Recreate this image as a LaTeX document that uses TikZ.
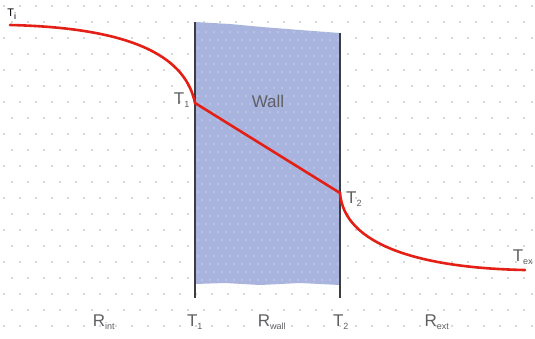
\documentclass[tikz,border=0pt]{standalone}
\usepackage{fontspec}
\setmainfont{Liberation Sans}
\usepackage{tikz}
\usetikzlibrary{positioning}

\definecolor{wallblue}{RGB}{168,180,222}
\definecolor{wallline}{RGB}{60,60,65}
\definecolor{tempred}{RGB}{228,32,22}
\definecolor{labelgray}{RGB}{95,95,100}
\newcommand{\lab}[2]{#1\textsubscript{\fontsize{9}{10}\selectfont #2}}

\begin{document}
\begin{tikzpicture}[x=1pt,y=-1pt,
    font=\fontsize{17}{20}\selectfont\color{labelgray},
    wallside/.style={draw=wallline, line width=2.8pt},
    profile/.style={draw=tempred, line width=2.6pt, line cap=round},
    lbl/.style={inner sep=1pt}]
  \useasboundingbox (0,0) rectangle (535,338);
  \fill[white] (0,0) rectangle (535,338);
  % dotted paper
  \foreach \j in {0,...,21} {
    \foreach \i in {0,...,34} {
      \fill[gray!60] ({8*mod(\j,2)+16*\i+4},{16*\j+6}) circle (0.9pt);
    }
  }
  % the wall
  \fill[wallblue] (195,22) -- (230,24) -- (262,27) -- (300,30) -- (340,33)
    -- (340,285) -- (300,283) -- (260,285) -- (225,283) -- (195,284) -- cycle;
  \foreach \i in {0,...,17} {
    \foreach \j in {0,...,32} {
      \fill[white!70!wallblue] ({198+8*\i+4*mod(\j,2)},{32+8*\j}) circle (0.6pt);
    }
  }
  \coordinate (wl top) at (195,22);
  \coordinate (wl bot) at (195,298);
  \coordinate (wr top) at (340,33);
  \coordinate (wr bot) at (340,298);
  \draw[wallside] (wl top) -- (wl bot);
  \draw[wallside] (wr top) -- (wr bot);
  \node[lbl] (wall) at (268,101) {Wall};
  % temperature profile
  \coordinate (Ti) at (10,25);
  \coordinate (T1) at (195,103);
  \coordinate (T2) at (340,193);
  \coordinate (Te) at (525,270);
  \draw[profile] (Ti) .. controls (140,28) and (186,60) .. (T1)
    -- (T2) .. controls (344,245) and (420,268) .. (Te);
  \node[lbl, font=\fontsize{11}{12}\selectfont\color{black}] (Ti lbl) at (12,14) {\lab{T}{i}};
  \node[lbl, left=4pt of T1, yshift=3pt] (T1 lbl) {\lab{T}{1}};
  \node[lbl, right=5pt of T2, yshift=-6pt] (T2 lbl) {\lab{T}{2}};
  \node[lbl] (Te lbl) at (523,257) {\lab{T}{ex}};
  % bottom row
  \node[lbl] (Rint) at (104,322) {\lab{R}{int}};
  \node[lbl] (T1b) at (195,322) {\lab{T}{1}};
  \node[lbl] (Rwall) at (272,322) {\lab{R}{wall}};
  \node[lbl] (T2b) at (341,322) {\lab{T}{2}};
  \node[lbl] (Rext) at (437,322) {\lab{R}{ext}};
\end{tikzpicture}
\end{document}
